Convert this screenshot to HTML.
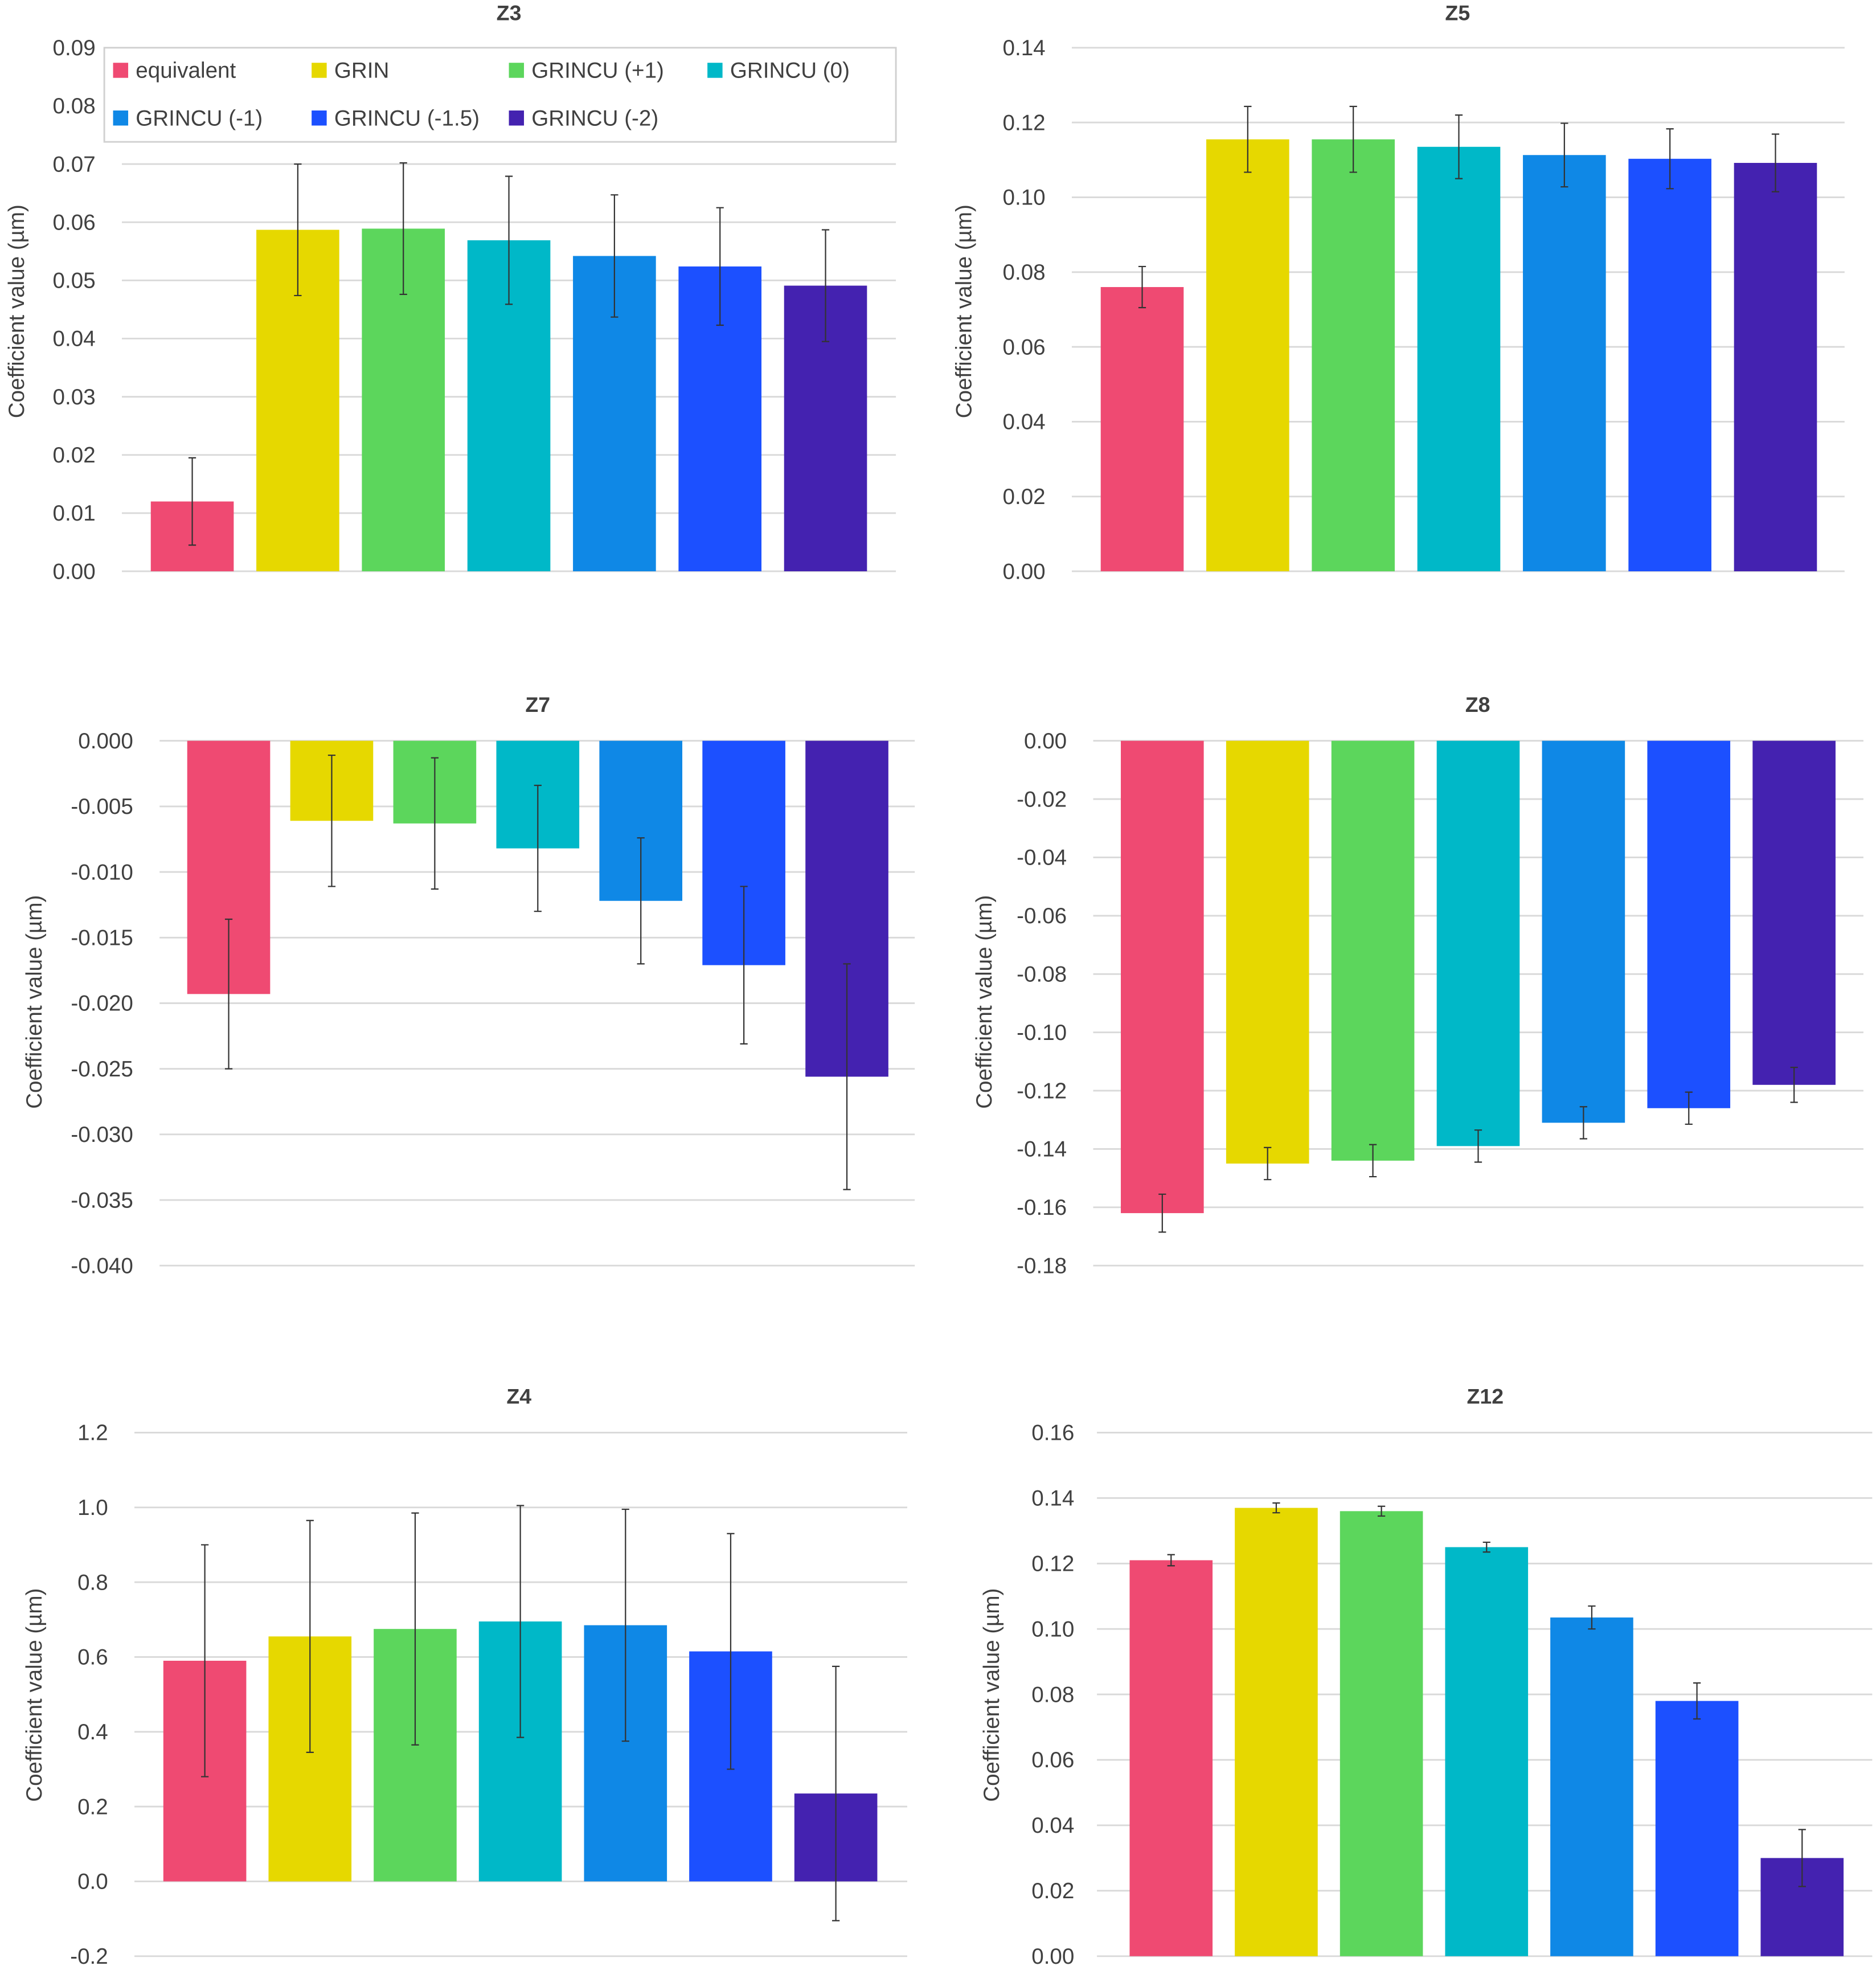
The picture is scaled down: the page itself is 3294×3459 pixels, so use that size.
<!DOCTYPE html>
<html><head><meta charset="utf-8">
<style>
html,body{margin:0;padding:0;background:#fff;}
svg{display:block;}
text{font-family:"Liberation Sans",sans-serif;fill:#404040;}
</style></head>
<body>
<svg id="fig" width="3294" height="3459" viewBox="0 0 1493 1569" preserveAspectRatio="none" xmlns="http://www.w3.org/2000/svg"></svg>
<script>
const categories = ["equivalent","GRIN","GRINCU (+1)","GRINCU (0)","GRINCU (-1)","GRINCU (-1.5)","GRINCU (-2)"];
const colors = ["#ef4a72","#e6d800","#5cd65c","#00b8c8","#0f88e6","#1c50ff","#4422b0"];

const z3Values = [0.0120,0.0587,0.0589,0.0569,0.0542,0.0524,0.0491];
const z3Errors = [0.0075,0.0113,0.0113,0.0110,0.0105,0.0101,0.0096];
const z3Ticks = ["0.00","0.01","0.02","0.03","0.04","0.05","0.06","0.07","0.08","0.09"];

const z5Values = [0.0760,0.1155,0.1155,0.1135,0.1113,0.1103,0.1092];
const z5Errors = [0.0055,0.0088,0.0088,0.0085,0.0085,0.0080,0.0077];
const z5Ticks = ["0.00","0.02","0.04","0.06","0.08","0.10","0.12","0.14"];

const z7Values = [-0.0193,-0.0061,-0.0063,-0.0082,-0.0122,-0.0171,-0.0256];
const z7Errors = [0.0057,0.0050,0.0050,0.0048,0.0048,0.0060,0.0086];
const z7Ticks = ["-0.040","-0.035","-0.030","-0.025","-0.020","-0.015","-0.010","-0.005","0.000"];

const z8Values = [-0.162,-0.145,-0.144,-0.139,-0.131,-0.126,-0.118];
const z8Errors = [0.0065,0.0055,0.0055,0.0055,0.0055,0.0055,0.0060];
const z8Ticks = ["-0.18","-0.16","-0.14","-0.12","-0.10","-0.08","-0.06","-0.04","-0.02","0.00"];

const z4Values = [0.590,0.655,0.675,0.695,0.685,0.615,0.235];
const z4Errors = [0.310,0.310,0.310,0.310,0.310,0.315,0.340];
const z4Ticks = ["-0.2","0.0","0.2","0.4","0.6","0.8","1.0","1.2"];

const z12Values = [0.121,0.137,0.136,0.125,0.1035,0.078,0.030];
const z12Errors = [0.0017,0.0015,0.0015,0.0015,0.0035,0.0055,0.0087];
const z12Ticks = ["0.00","0.02","0.04","0.06","0.08","0.10","0.12","0.14","0.16"];

const NS="http://www.w3.org/2000/svg";
const svg=document.getElementById('fig');
function mk(tag,attrs,parent){const e=document.createElementNS(NS,tag);for(const k in attrs)e.setAttribute(k,attrs[k]);(parent||svg).appendChild(e);return e;}

function panel(o){
  const g=mk('g',{});
  
  
  const tmin=parseFloat(o.ticks[0]), tmax=parseFloat(o.ticks[o.ticks.length-1]);
  const y=v=>o.yBot-(v-tmin)/(tmax-tmin)*(o.yBot-o.yTop);
  const t=mk('text',{x:o.titleX,y:o.titleY,'text-anchor':'middle','font-size':17,'font-weight':'bold',fill:'#000'},g);
  t.textContent=o.title;
  
  
  o.ticks.forEach(s=>{
    const v=parseFloat(s), yy=y(v);
    if(!(o.skipGrid&&o.skipGrid(v))){
      const l=mk('line',{x1:o.x0,x2:o.x1,y1:yy,y2:yy,stroke:'#d9d9d9','stroke-width':1.3},g);
      
      
    }
    const tx=mk('text',{x:o.labelX,y:yy+6,'text-anchor':'end','font-size':17.5},g);
    tx.textContent=s;
    
    
  });
  const at=mk('text',{x:o.axisX,y:o.axisY,'text-anchor':'middle','font-size':17.5,transform:`rotate(-90 ${o.axisX} ${o.axisY})`},g);
  at.textContent='Coefficient value (µm)';
  
  
  const y0=y(0);
  o.values.forEach((v,i)=>{
    const cx=o.c0+i*o.step;
    const r=mk('rect',{x:cx-o.bw/2,y:Math.min(y(v),y0),width:o.bw,height:Math.abs(y(v)-y0),fill:colors[i]},g);
    
    
    const e=o.errors[i], ya=y(v+e), yb=y(v-e);
    const eg=mk('path',{d:`M${cx},${ya}V${yb}M${cx-3},${ya}H${cx+3}M${cx-3},${yb}H${cx+3}`,stroke:'#333','stroke-width':1,fill:'none'},g);
    
    
  });
  return g;
}

panel({name:'chart-z3',title:'Z3',titleX:405,titleY:16,ticks:z3Ticks,yTop:38,yBot:455,x0:97,x1:713,labelX:76,axisX:19,axisY:248,c0:153,step:84,bw:66,values:z3Values,errors:z3Errors,skipGrid:v=>v>0.075});
panel({name:'chart-z5',title:'Z5',titleX:1160,titleY:16,ticks:z5Ticks,yTop:38,yBot:455,x0:853,x1:1468,labelX:832,axisX:773,axisY:248,c0:909,step:84,bw:66,values:z5Values,errors:z5Errors});
panel({name:'chart-z7',title:'Z7',titleX:428,titleY:567,ticks:z7Ticks,yTop:590,yBot:1008,x0:127,x1:728,labelX:106,axisX:33,axisY:798,c0:182,step:82,bw:66,values:z7Values,errors:z7Errors});
panel({name:'chart-z8',title:'Z8',titleX:1176,titleY:567,ticks:z8Ticks,yTop:590,yBot:1008,x0:870,x1:1483,labelX:849,axisX:789,axisY:798,c0:925,step:83.8,bw:66,values:z8Values,errors:z8Errors});
panel({name:'chart-z4',title:'Z4',titleX:413,titleY:1118,ticks:z4Ticks,yTop:1141,yBot:1558,x0:107,x1:722,labelX:86,axisX:33,axisY:1350,c0:163,step:83.7,bw:66,values:z4Values,errors:z4Errors});
panel({name:'chart-z12',title:'Z12',titleX:1182,titleY:1118,ticks:z12Ticks,yTop:1141,yBot:1558,x0:873,x1:1490,labelX:855,axisX:795,axisY:1350,c0:932,step:83.7,bw:66,values:z12Values,errors:z12Errors});

// legend
const lg=mk('g',{});


mk('rect',{x:83,y:38,width:630,height:75,fill:'#fff',stroke:'#d0d0d0','stroke-width':1.3},lg);
const lx=[90,248,405,563];
categories.forEach((c,i)=>{
  const x=lx[i%4], yy=i<4?56:94;
  const it=mk('g',{},lg);
  
  
  mk('rect',{x:x,y:yy-6,width:12,height:12,fill:colors[i]},it);
  const t=mk('text',{x:x+18,y:yy+6,'font-size':17.5},it);
  t.textContent=c;
});
</script>
</body></html>
